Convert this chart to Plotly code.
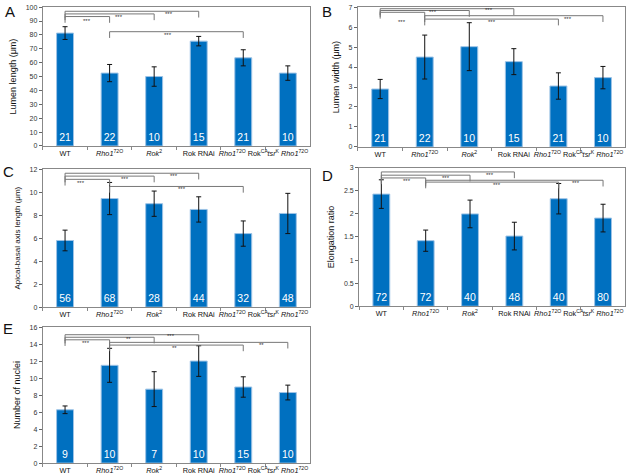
import plotly.graph_objects as go

categories = ["WT", "<i>Rho1</i><sup>72O</sup>", "<i>Rok</i><sup>2</sup>", "Rok RNAi",
              "<i>Rho1</i><sup>72O</sup> Rok<sup>CA</sup>", "<i>tsr</i><sup>K</sup> <i>Rho1</i><sup>72O</sup>"]

# Panel A: lumen length
a_vals = [81.3, 52.5, 50.0, 75.5, 63.5, 52.5]
a_err = [4.6, 6.2, 7.0, 3.4, 5.8, 5.2]
a_n = [21, 22, 10, 15, 21, 10]
# Panel B: lumen width
b_vals = [2.9, 4.5, 5.02, 4.27, 3.05, 3.47]
b_err = [0.48, 1.1, 1.2, 0.65, 0.66, 0.56]
b_n = [21, 22, 10, 15, 21, 10]
# Panel C: apical-basal axis length
c_vals = [5.8, 9.45, 9.0, 8.5, 6.4, 8.15]
c_err = [0.9, 1.4, 1.1, 1.1, 1.1, 1.75]
c_n = [56, 68, 28, 44, 32, 48]
# Panel D: elongation ratio
d_vals = [2.43, 1.42, 2.0, 1.52, 2.33, 1.91]
d_err = [0.31, 0.23, 0.3, 0.3, 0.33, 0.3]
d_n = [72, 72, 40, 48, 40, 80]
# Panel E: number of nuclei
e_vals = [6.27, 11.5, 8.7, 12.0, 8.95, 8.3]
e_err = [0.45, 2.0, 2.05, 1.8, 1.2, 0.87]
e_n = [9, 10, 7, 10, 15, 10]

# significance brackets: (from, to, line level, label, label x, label y)
a_sig = [(0, 3, 97.0, "***", 2.34, 94.8), (0, 2, 95.1, "***", 1.2, 93.2),
         (0, 1, 93.2, "***", 0.5, 90.0), (1, 4, 82.3, "***", 2.3, 80.2)]
b_sig = [(0, 3, 6.92, "***", 2.44, 6.84), (0, 2, 6.83, "***", 1.19, 6.75),
         (0, 1, 6.74, "***", 0.5, 6.26), (1, 5, 6.57, "***", 4.22, 6.43),
         (1, 4, 6.4, "***", 2.52, 6.26)]
c_sig = [(0, 3, 11.65, "***", 2.45, 11.4), (0, 2, 11.4, "***", 1.35, 11.12),
         (0, 1, 11.12, "***", 0.35, 10.78), (1, 4, 10.5, "***", 2.62, 10.25)]
d_sig = [(0, 3, 2.91, "***", 2.44, 2.85), (0, 2, 2.84, "***", 1.45, 2.77),
         (0, 1, 2.78, "***", 0.57, 2.71), (1, 5, 2.73, "***", 4.39, 2.68),
         (1, 4, 2.69, "***", 2.6, 2.63)]
e_sig = [(0, 3, 15.1, "***", 2.38, 14.94), (0, 2, 14.8, "**", 1.42, 14.55),
         (0, 1, 14.5, "***", 0.48, 14.1), (1, 5, 14.2, "**", 4.4, 13.84),
         (1, 4, 13.88, "**", 2.46, 13.57)]

panels = [
    dict(vals=a_vals, err=a_err, n=a_n, sig=a_sig, title="Lumen length (\u03bcm)", rng=[0, 100], dt=10,
         dom_x=[0.068, 0.493], dom_y=[0.692, 0.985], letter="A", lx=0.004, ly=0.998, tsize=9),
    dict(vals=b_vals, err=b_err, n=b_n, sig=b_sig, title="Lumen width (\u03bcm)", rng=[0, 7], dt=1,
         dom_x=[0.569, 0.994], dom_y=[0.690, 0.985], letter="B", lx=0.508, ly=0.998, tsize=9),
    dict(vals=c_vals, err=c_err, n=c_n, sig=c_sig, title="Apical-basal axis length (\u03bcm)", rng=[0, 12], dt=2,
         dom_x=[0.068, 0.493], dom_y=[0.352, 0.643], letter="C", lx=0.001, ly=0.66, tsize=8),
    dict(vals=d_vals, err=d_err, n=d_n, sig=d_sig, title="Elongation ratio", rng=[0, 3], dt=0.5,
         dom_x=[0.571, 0.994], dom_y=[0.354, 0.646], letter="D", lx=0.508, ly=0.652, tsize=9),
    dict(vals=e_vals, err=e_err, n=e_n, sig=e_sig, title="Number of nuclei", rng=[0, 16], dt=2,
         dom_x=[0.068, 0.493], dom_y=[0.023, 0.310], letter="E", lx=0.001, ly=0.33, tsize=9),
]

BAR = "#0070C0"
fig = go.Figure()
layout = dict(width=629, height=474, margin=dict(l=0, r=0, t=0, b=0),
              paper_bgcolor="white", plot_bgcolor="white", showlegend=False,
              font=dict(family="Liberation Sans, Arial", color="#222"), bargap=0.62)
shapes = []
annotations = []

for k, p in enumerate(panels):
    s = "" if k == 0 else str(k + 1)
    xa, ya = "x" + s, "y" + s
    fig.add_trace(go.Bar(
        x=categories, y=p["vals"], xaxis=xa, yaxis=ya,
        marker=dict(color=BAR, line=dict(color="#9DC3E6", width=1)),
        error_y=dict(type="data", array=p["err"], color="#111", thickness=1, width=2.5),
        text=[str(v) for v in p["n"]], textposition="inside", insidetextanchor="start",
        textangle=0, constraintext="none", textfont=dict(color="white", size=10.5, family="Liberation Sans, Arial"),
        hoverinfo="skip"))
    layout["xaxis" + s] = dict(domain=p["dom_x"], anchor=ya, type="category", tickson="boundaries",
                               ticks="outside", ticklen=3, tickcolor="#888", showline=True, mirror=True,
                               linecolor="#888", linewidth=1, tickfont=dict(size=7.3, color="#111"),
                               tickangle=0, automargin=False,
                               showgrid=False, range=[-0.5, 5.5], fixedrange=True)
    layout["yaxis" + s] = dict(domain=p["dom_y"], anchor=xa, range=p["rng"], dtick=p["dt"],
                               ticks="outside", ticklen=3, tickcolor="#666", showline=True, mirror=True,
                               linecolor="#888", linewidth=1, showgrid=False, zeroline=False,
                               tickfont=dict(size=7, color="#333"), automargin=False, fixedrange=True,
                               title=dict(text=p["title"], font=dict(size=p["tsize"], color="#111"), standoff=7))
    rng = p["rng"][1]
    leg = rng * 0.045
    for (i, j, yl, lab, lxp, lyp) in p["sig"]:
        for (x0, y0, x1, y1) in [(i, yl, j, yl), (i, yl, i, yl - leg), (j, yl, j, yl - leg)]:
            shapes.append(dict(type="line", xref=xa, yref=ya, x0=x0, y0=y0, x1=x1, y1=y1,
                               line=dict(color="#777", width=1)))
        annotations.append(dict(xref=xa, yref=ya, x=lxp, y=lyp, text=lab, showarrow=False,
                                font=dict(size=6, color="#333")))
    annotations.append(dict(xref="paper", yref="paper", x=p["lx"], y=p["ly"], text=p["letter"],
                            showarrow=False, xanchor="left", yanchor="top",
                            font=dict(size=15, color="#111")))

layout["shapes"] = shapes
layout["annotations"] = annotations
fig.update_layout(**layout)
fig.write_html("out.html", config={"displayModeBar": False, "staticPlot": True},
               post_script="document.body.style.margin='0';document.body.style.overflow='hidden';")
